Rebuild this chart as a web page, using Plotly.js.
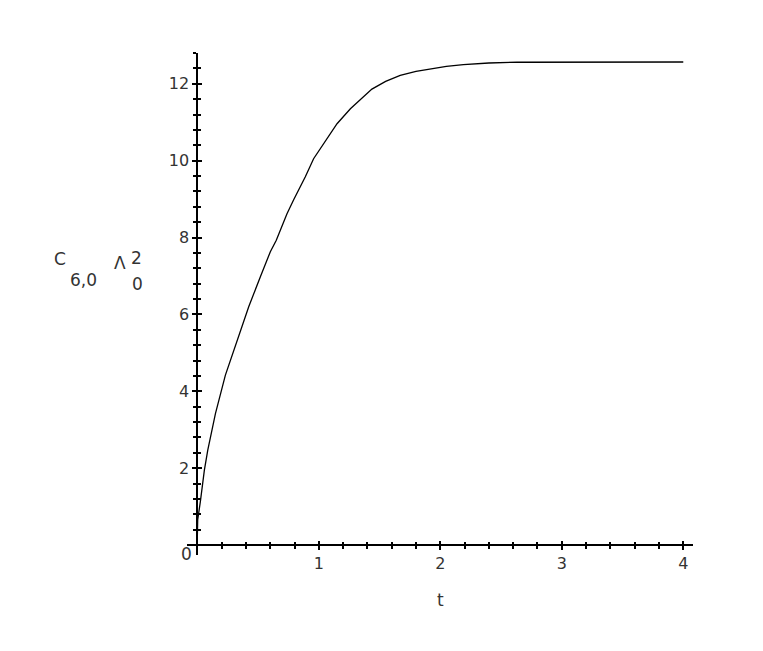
<!DOCTYPE html>
<html>
<head>
<meta charset="utf-8">
<script src="https://cdn.plot.ly/plotly-3.0.1.min.js"></script>
<style>
  html, body { margin: 0; padding: 0; background: #fff; }
  #cPlot { width: 763px; height: 651px; }
</style>
</head>
<body>
<div id="cPlot"></div>
<script>
// values
var tVals = [0, 0.003, 0.025, 0.058, 0.086, 0.149, 0.231, 0.313, 0.423, 0.519, 0.601, 0.65,
  0.738, 0.793, 0.848, 0.889, 0.957, 1.04, 1.15, 1.26, 1.35, 1.437, 1.55, 1.67, 1.8, 1.917,
  2.05, 2.19, 2.4, 2.63, 3.0, 3.5, 4.0];
var cVals = [0.2, 0.65, 1.13, 1.95, 2.47, 3.42, 4.42, 5.2, 6.2, 6.98, 7.63, 7.93,
  8.62, 8.98, 9.32, 9.58, 10.05, 10.44, 10.96, 11.35, 11.62, 11.86, 12.06, 12.22, 12.32, 12.39,
  12.45, 12.5, 12.54, 12.56, 12.566, 12.566, 12.566];
var xTicks = [1, 2, 3, 4];
var yTicks = [2, 4, 6, 8, 10, 12];

var xRange = [-0.085, 4.08];
var yRange = [-0.26, 12.8];
var tickFont = {family: 'DejaVu Sans', size: 16, color: '#333'};
var labFont = {family: 'DejaVu Sans', size: 17, color: '#333'};

var curve = {
  x: tVals,
  y: cVals,
  mode: 'lines',
  type: 'scatter',
  line: {color: '#000', width: 1.3},
  hoverinfo: 'skip'
};
// empty-looking copy so the overlay axes get drawn
var holder = {
  x: tVals,
  y: cVals,
  mode: 'none',
  type: 'scatter',
  xaxis: 'x2',
  yaxis: 'y2',
  hoverinfo: 'skip'
};

var xPos = (0 - yRange[0]) / (yRange[1] - yRange[0]);
var yPos = (0 - xRange[0]) / (xRange[1] - xRange[0]);

function axisBase(range, vals, minorStep) {
  return {
    range: range,
    showgrid: false,
    zeroline: false,
    tickmode: 'array',
    tickvals: vals,
    ticktext: vals.map(String),
    ticklen: 4,
    tickwidth: 2,
    tickcolor: '#000',
    tickfont: tickFont,
    minor: {tickmode: 'linear', tick0: 0, dtick: minorStep, ticks: 'outside', ticklen: 3, tickwidth: 2, tickcolor: '#000'},
    anchor: 'free',
    fixedrange: true
  };
}

var xa = axisBase(xRange, xTicks, 0.2);
xa.position = xPos; xa.ticks = 'outside'; xa.showline = true; xa.linewidth = 2; xa.linecolor = '#000';
var ya = axisBase(yRange, yTicks, 0.4);
ya.position = yPos; ya.ticks = 'outside'; ya.showline = true; ya.linewidth = 2; ya.linecolor = '#000';

// second set of axes so the ticks cross the line on both sides
var xa2 = axisBase(xRange, xTicks, 0.2);
xa2.overlaying = 'x'; xa2.position = xPos; xa2.ticks = 'inside'; xa2.minor.ticks = 'inside';
xa2.showticklabels = false; xa2.showline = false;
var ya2 = axisBase(yRange, yTicks, 0.4);
ya2.overlaying = 'y'; ya2.position = yPos; ya2.ticks = 'inside'; ya2.minor.ticks = 'inside';
ya2.showticklabels = false; ya2.showline = false;

function px(x) { return (x - 187) / 506; }
function py(y) { return (555 - y) / 502; }
function lab(text, x, y) {
  return {text: text, xref: 'paper', yref: 'paper', x: px(x), y: py(y),
    xanchor: 'center', yanchor: 'middle', showarrow: false, font: labFont};
}

var layout = {
  width: 763,
  height: 651,
  margin: {l: 187, r: 70, t: 53, b: 96},
  paper_bgcolor: '#fff',
  plot_bgcolor: '#fff',
  showlegend: false,
  xaxis: xa,
  yaxis: ya,
  xaxis2: xa2,
  yaxis2: ya2,
  annotations: [
    lab('0', 186, 554),
    lab('t', 440, 600),
    lab('C', 60, 259),
    lab('6,0', 83, 280),
    lab('Λ', 120, 263),
    lab('2', 136.5, 258),
    lab('0', 137.5, 284)
  ]
};

Plotly.newPlot('cPlot', [curve, holder], layout, {staticPlot: true, displayModeBar: false});
</script>
</body>
</html>
